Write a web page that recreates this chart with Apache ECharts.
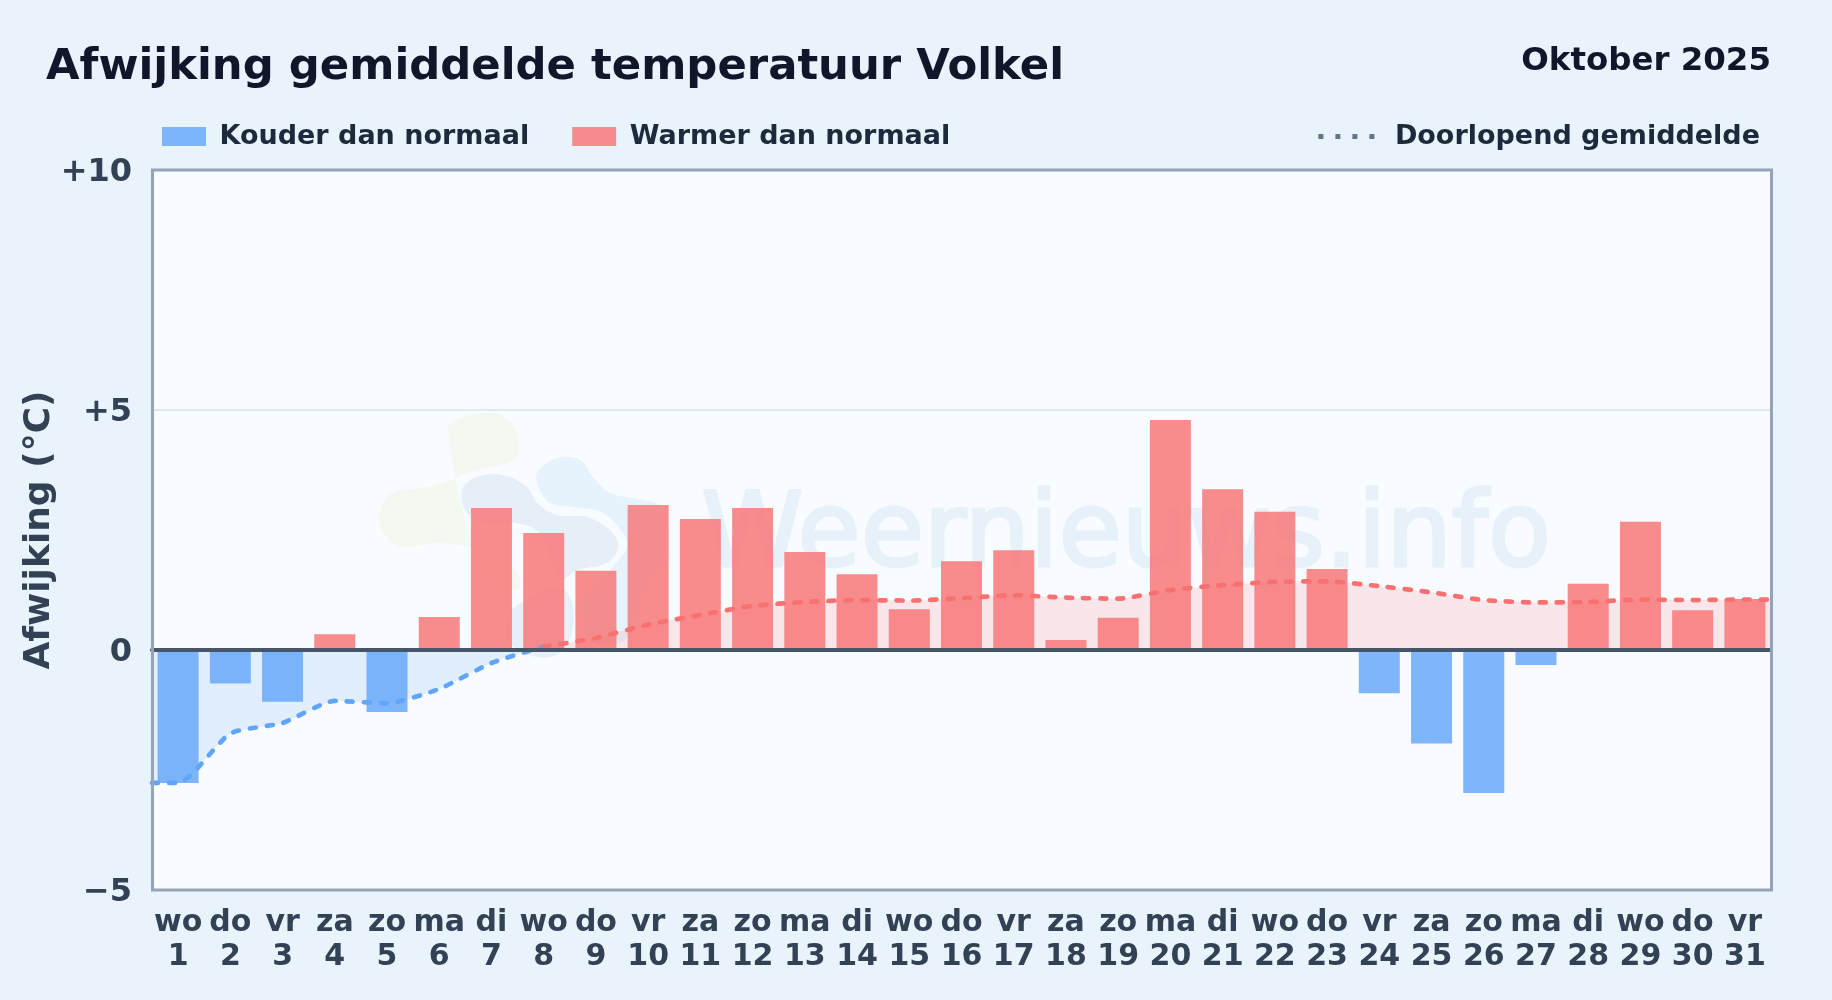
<!DOCTYPE html>
<html>
<head>
<meta charset="utf-8">
<style>html,body{margin:0;padding:0;background:#e8f3fc}#c{width:1832px;height:1000px}</style>
<script src="https://cdn.jsdelivr.net/npm/echarts@6/dist/echarts.min.js"></script>
</head>
<body>
<div id="c"></div>
<script>
const weekdays = ['wo','do','vr','za','zo','ma','di','wo','do','vr','za','zo','ma','di','wo','do','vr','za','zo','ma','di','wo','do','vr','za','zo','ma','di','wo','do','vr'];
const days = [1,2,3,4,5,6,7,8,9,10,11,12,13,14,15,16,17,18,19,20,21,22,23,24,25,26,27,28,29,30,31];
const deviation = [-2.77,-0.70,-1.08,0.33,-1.29,0.69,2.96,2.44,1.65,3.02,2.73,2.96,2.04,1.58,0.85,1.85,2.08,0.21,0.67,4.79,3.35,2.88,1.69,-0.90,-1.95,-2.98,-0.31,1.38,2.67,0.83,1.06];
const coldMeanX = [0.5,1,2,3,4,5,6,7,8];
const coldMean = [-2.77,-2.77,-1.74,-1.52,-1.06,-1.11,-0.81,-0.27,0.07];
const warmMeanX = [8,9,10,11,12,13,14,15,16,17,18,19,20,21,22,23,24,25,26,27,28,29,30,31,31.5];
const warmMean = [0.07,0.25,0.53,0.73,0.92,1.00,1.04,1.03,1.08,1.14,1.09,1.07,1.25,1.35,1.42,1.43,1.33,1.20,1.04,0.99,1.00,1.05,1.04,1.05,1.05];
const yTicks = {'10':'+10','5':'+5','0':'0','-5':'\u22125'};

const FONT = '"DejaVu Sans", sans-serif';
const MEAN = 'Doorlopend gemiddelde';
const logo = (points, fill) => ({type:'polygon',silent:true,z:-10,shape:{points,smooth:0.35},style:{fill}});
const meanSeries = (xs, ys, color) => ({
  name:MEAN,type:'line',xAxisIndex:1,smooth:0.2,symbol:'none',z:4,
  itemStyle:{color},
  lineStyle:{color,width:4.7,type:[6,11],cap:'round'},
  areaStyle:{color,opacity:0.15,origin:0},
  data:xs.map((x,i)=>[x,ys[i]])
});
const chart = echarts.init(document.getElementById('c'), null, {renderer:'canvas'});
chart.setOption({
  animation:false,
  backgroundColor:'#e8f3fc',
  textStyle:{fontFamily:FONT},
  title:[
    {text:'Afwijking gemiddelde temperatuur Volkel',left:46,top:46,padding:0,textStyle:{fontFamily:FONT,fontWeight:'bold',fontSize:43.35,color:'#0f172a'}},
    {text:'Oktober 2025',right:61,top:46,padding:0,textStyle:{fontFamily:FONT,fontWeight:'bold',fontSize:32.45,color:'#0f172a'}}
  ],
  legend:[
    {left:162,top:123,padding:0,itemWidth:44,itemHeight:19,itemGap:43,
     textStyle:{fontFamily:FONT,fontWeight:'bold',fontSize:27,color:'#1e293b',padding:[4,0,0,8.5]},
     data:[{name:'Kouder dan normaal',icon:'rect'},{name:'Warmer dan normaal',icon:'rect'}],
     itemStyle:{borderWidth:0}},
    {right:72,top:123,padding:0,itemWidth:56,itemHeight:19,
     textStyle:{fontFamily:FONT,fontWeight:'bold',fontSize:27,color:'#1e293b',padding:[4,0,0,15.5]},
     data:[{name:MEAN,itemStyle:{opacity:0},lineStyle:{color:'#64748b',type:[5,12],width:5,cap:'butt'}}]}
  ],
  grid:{left:152,top:170,right:61,bottom:110,z:-20,show:true,backgroundColor:'#f8fbff',borderWidth:0},
  xAxis:[
    {type:'category',data:weekdays.map((w,i)=>w+'\n'+days[i]),position:'bottom',
     axisLine:{onZero:false,show:false},axisTick:{show:false},splitLine:{show:false},
     axisLabel:{interval:0,margin:16,fontFamily:FONT,fontWeight:'bold',fontSize:30,lineHeight:34,color:'#334155'}},
    {type:'value',min:0.5,max:31.5,show:true,axisLabel:{show:false},axisTick:{show:false},splitLine:{show:false},
     z:6,axisLine:{show:true,onZero:true,lineStyle:{color:'#475569',width:4}}}
  ],
  yAxis:{type:'value',min:-5,max:10,interval:5,
    name:'Afwijking (\u00b0C)',nameLocation:'middle',nameGap:94,nameMoveOverlap:false,
    nameTextStyle:{fontFamily:FONT,fontWeight:'bold',fontSize:36,color:'#334155'},
    axisLine:{show:false},axisTick:{show:false},
    splitLine:{showMinLine:false,showMaxLine:false,lineStyle:{color:'#e2e8f0',width:2}},
    axisLabel:{margin:20,formatter:v=>'{a|'+yTicks[v]+'}',
      rich:{a:{padding:[5,0,0,0],fontFamily:FONT,fontWeight:'bold',fontSize:32,color:'#334155'}}}},
  graphic:{elements:[
    logo([[448,430],[470,415],[500,415],[517,433],[517,457],[500,465],[470,472],[450,480],[427,487],[393,493],[380,510],[383,533],[403,547],[437,543],[470,547],[500,557],[517,573],[520,587],[503,590],[483,577]],'#f3f9f1'),
    logo([[462,490],[477,477],[503,475],[527,487],[537,503],[557,515],[587,517],[610,530],[618,547],[607,563],[577,570],[560,580],[550,557],[540,533],[517,523],[487,523],[467,513]],'#e6eef7'),
    logo([[510,613],[527,600],[557,587],[570,597],[573,627],[560,653],[537,657],[510,643]],'#e6f0f8'),
    logo([[537,473],[557,458],[580,460],[593,477],[610,493],[643,500],[660,507],[665,560],[650,580],[625,640],[590,640],[580,600],[610,570],[627,547],[623,533],[603,513],[573,507],[550,503],[540,490]],'#e6f3fc'),
    {type:'text',z:-10,left:700,top:486,silent:true,style:{text:'Weernieuws.info',fontFamily:FONT,fontSize:103,fill:'#e6f1fa',stroke:'#e6f1fa',lineWidth:3}},
    {type:'rect',z:7,silent:true,shape:{x:152.5,y:170,width:1619,height:720},style:{fill:'none',stroke:'#94a3b8',lineWidth:3}}
  ]},
  series:[
    {name:'Kouder dan normaal',type:'bar',xAxisIndex:0,barWidth:41,barGap:'-100%',
     itemStyle:{color:'rgba(96,165,250,0.8)'},data:deviation.map(v=>v<0?v:null),z:3},
    {name:'Warmer dan normaal',type:'bar',xAxisIndex:0,barWidth:41,barGap:'-100%',
     itemStyle:{color:'rgba(248,113,113,0.8)'},data:deviation.map(v=>v>=0?v:null),z:3},
    meanSeries(coldMeanX, coldMean, '#60a5fa'),
    meanSeries(warmMeanX, warmMean, '#f87171')
  ]
});
</script>
</body>
</html>
